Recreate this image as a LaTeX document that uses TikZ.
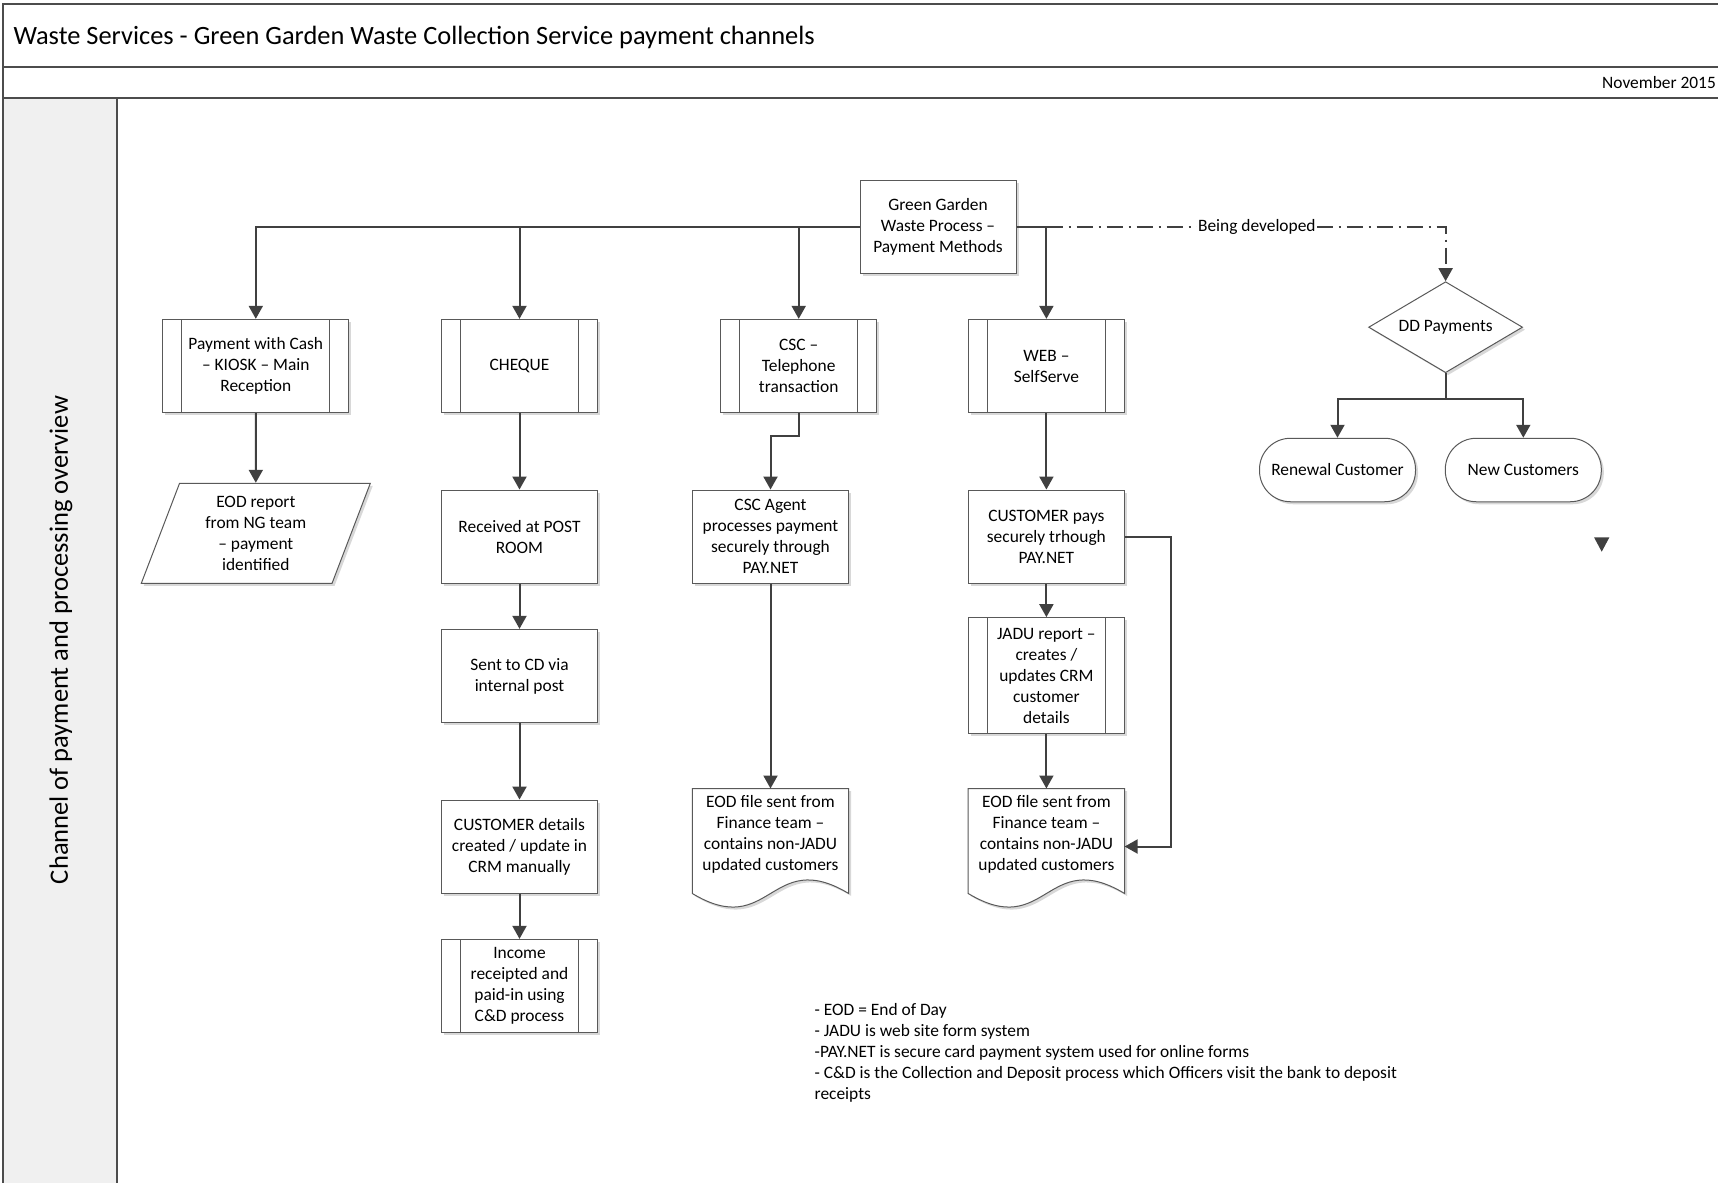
\documentclass[tikz,border=0pt]{standalone}
\usepackage{fontspec}
\setmainfont{Carlito}
\usetikzlibrary{positioning,arrows.meta,calc,shapes.geometric,shadows,backgrounds}

\begin{document}
\begin{tikzpicture}[>={Triangle[length=13pt,width=14pt]},x=1pt,y=-1pt,
	every node/.style={font=\fontsize{17.4}{21}\selectfont},
	boxshadow/.style={drop shadow={shadow xshift=2.5pt,shadow yshift=-2.5pt,fill=black!30,opacity=0.5}},
	box/.style={draw=black!65,line width=1pt,fill=white,boxshadow,align=center,inner sep=2pt,minimum width=156pt,minimum height=93.3pt},
	subbox/.style={box,path picture={
		\draw[black!65,line width=1pt] ([xshift=19pt]path picture bounding box.north west) -- ([xshift=19pt]path picture bounding box.south west)
			([xshift=-19pt]path picture bounding box.north east) -- ([xshift=-19pt]path picture bounding box.south east);}},
	report/.style={box,trapezium,trapezium left angle=64,trapezium right angle=116,trapezium stretches body=true,minimum width=229pt,minimum height=100pt},
	doc/.style={align=center,inner sep=2pt,minimum width=156pt,minimum height=91.6pt},
	docline/.style={draw=black!65,line width=1pt,fill=white,boxshadow},
	decision/.style={box,diamond,aspect=1.69,inner sep=0pt,minimum width=154pt,minimum height=91pt},
	term/.style={box,rounded corners=31pt,minimum height=63.5pt},
	flow/.style={->,draw=black!75,line width=2pt},
	devflow/.style={flow,dash pattern=on 16pt off 6pt on 2pt off 6pt},
	frame/.style={draw=black!70,line width=2pt}]

	\useasboundingbox (0,0) rectangle (1718,1183);

	% page frame
	\fill[black!6] (3,98.3) rectangle (116.5,1183);
	\draw[frame] (1718,4) -- (3,4) -- (3,1183);
	\draw[frame] (3,66.7) -- (1718,66.7);
	\draw[frame] (3,98.3) -- (1718,98.3);
	\draw[frame] (116.5,98.3) -- (116.5,1183);
	\node[anchor=base west,inner sep=0,font=\fontsize{26.4}{31}\selectfont] (title) at (13.3,44.8) {Waste Services - Green Garden Waste Collection Service payment channels};
	\node[anchor=base east,inner sep=0] (date) at (1716,88.3) {November 2015};
	\node[rotate=90,inner sep=0,font=\fontsize{26.5}{31}\selectfont] (lane) at (61,640) {Channel of payment and processing overview};

	\node[box] (ggw) at (938,226.7) {Green Garden\\Waste Process –\\Payment Methods};

	% channels
	\node[subbox,minimum width=186pt] (cash) at (255.8,366) {Payment with Cash\\– KIOSK – Main\\Reception};
	\node[subbox] (cheque) at (519.5,366) {CHEQUE};
	\node[subbox] (csc) at (798.7,366) {CSC –\\Telephone\\transaction};
	\node[subbox] (web) at (1046.4,366) {WEB –\\SelfServe};

	\node[report] (eodrep) at (255.8,533.3) {EOD report\\from NG team\\– payment\\identified};
	\node[box] (received) at (519.5,536.7) {Received at POST\\ROOM};
	\node[box] (sentcd) at (519.5,676) {Sent to CD via\\internal post};
	\node[box] (custdet) at (519.5,846.7) {CUSTOMER details\\created / update in\\CRM manually};
	\node[subbox] (income) at (519.5,986) {Income\\receipted and\\paid-in using\\C\&D process};

	\node[box] (agent) at (770.5,536.7) {CSC Agent\\processes payment\\securely through\\PAY.NET};
	\node[doc] (eodcsc) at (770.5,834.5) {EOD file sent from\\Finance team –\\contains non-JADU\\updated customers};

	\node[box] (pay) at (1046.4,536.7) {CUSTOMER pays\\securely trhough\\PAY.NET};
	\node[subbox,minimum height=116.3pt] (jadu) at (1046.4,675.8) {JADU report –\\creates /\\updates CRM\\customer\\details};
	\node[doc] (eodweb) at (1046.4,834.5) {EOD file sent from\\Finance team –\\contains non-JADU\\updated customers};

	\begin{scope}[on background layer]
		\draw[docline] (eodcsc.north west) -- (eodcsc.north east) -- ($(eodcsc.south east)+(0,13)$)
			.. controls ($(eodcsc.south)+(0,-34)$) and ($(eodcsc.south)+(0,60)$) .. ($(eodcsc.south west)+(0,13)$) -- cycle;
		\draw[docline] (eodweb.north west) -- (eodweb.north east) -- ($(eodweb.south east)+(0,13)$)
			.. controls ($(eodweb.south)+(0,-34)$) and ($(eodweb.south)+(0,60)$) .. ($(eodweb.south west)+(0,13)$) -- cycle;
	\end{scope}

	% direct debit
	\node[decision] (dd) at (1445.6,327.2) {DD Payments};
	\node[term] (renewal) at (1337.5,470) {Renewal Customer};
	\node[term] (newcust) at (1523.3,470) {New Customers};

	% connectors
	\draw[flow] (ggw.west) -| (cash.north);
	\draw[flow] (ggw.west) -| (cheque.north);
	\draw[flow] (ggw.west) -| (csc.north);
	\draw[flow] (ggw.east) -| (web.north);
	\draw[devflow] (ggw.east) -| node[pos=0.28,fill=white,inner sep=1pt] (devlabel) {Being developed} (dd.north);

	\draw[flow] (cash.south) -- (eodrep.north);
	\draw[flow] (cheque.south) -- (received.north);
	\draw[flow] (received.south) -- (sentcd.north);
	\draw[flow] (sentcd.south) -- (custdet.north);
	\draw[flow] (custdet.south) -- (income.north);

	\draw[flow] (csc.south) -- ++(0,23.3) -| (agent.north);
	\draw[flow] (agent.south) -- (eodcsc.north);

	\draw[flow] (web.south) -- (pay.north);
	\draw[flow] (pay.south) -- (jadu.north);
	\draw[flow] (jadu.south) -- (eodweb.north);
	\draw[flow] (pay.east) -- ++(46,0) |- ($(eodweb.north east)+(0,58)$);

	\draw[flow] (dd.south) -- ++(0,25.3) -| (renewal.north);
	\draw[flow] (dd.south) -- ++(0,25.3) -| (newcust.north);

	\fill[black!75] (1594,537.3) -- (1609.4,537.3) -- (1601.7,551.7) -- cycle;

	\node[anchor=north west,align=left,inner sep=0] (notes) at (814.5,1003) {- EOD = End of Day\\- JADU is web site form system\\-PAY.NET is secure card payment system used for online forms\\- C\&D is the Collection and Deposit process which Officers visit the bank to deposit\\receipts};

\end{tikzpicture}
\end{document}
